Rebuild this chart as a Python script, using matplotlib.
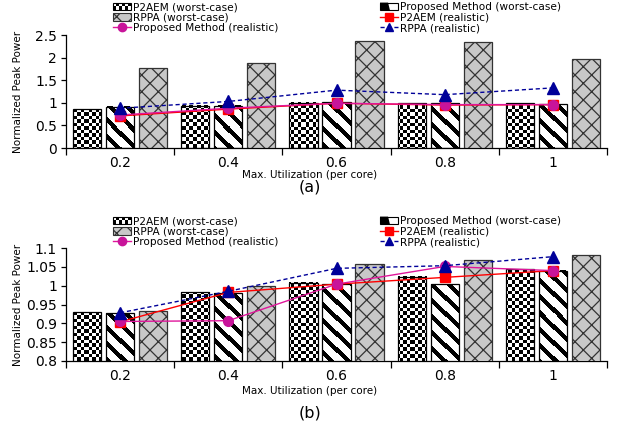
import numpy as np
import matplotlib
matplotlib.use("Agg")
import matplotlib.pyplot as plt
from matplotlib.patches import Rectangle, Polygon
from matplotlib.lines import Line2D
from matplotlib.legend_handler import HandlerBase

# ── Data ──────────────────────────────────────────────────────────────
utilization = ["0.2", "0.4", "0.6", "0.8", "1"]

# (a) full range
p2aem_wc_a = [0.86, 0.93, 1.00, 0.99, 0.99]
prop_wc_a = [0.91, 0.94, 1.01, 0.99, 0.97]
rppa_wc_a = [1.77, 1.89, 2.37, 2.34, 1.98]
p2aem_re_a = [0.71, 0.86, 0.99, 0.95, 0.96]
prop_re_a = [0.73, 0.88, 0.99, 0.96, 0.96]
rppa_re_a = [0.88, 1.03, 1.28, 1.18, 1.33]

# (b) zoomed
p2aem_wc_b = [0.930, 0.983, 1.008, 1.024, 1.044]
prop_wc_b = [0.927, 0.980, 1.004, 1.004, 1.040]
rppa_wc_b = [0.934, 0.999, 1.058, 1.067, 1.081]
p2aem_re_b = [0.904, 0.982, 1.004, 1.022, 1.040]
prop_re_b = [0.905, 0.907, 1.004, 1.051, 1.040]
rppa_re_b = [0.928, 0.985, 1.046, 1.053, 1.077]

# ── Style ─────────────────────────────────────────────────────────────
W, H = 623, 430
BLUE = "#000099"
RED = "#FF0000"
PINK = "#E0169B"
GREY = "#C8C8C8"
BAR_W = 0.26
OFF = 0.305

plt.rcParams["font.family"] = "DejaVu Sans"
plt.rcParams["hatch.linewidth"] = 0.9


def px_rect(l, t, r, b):
    return [l / W, 1 - b / H, (r - l) / W, (b - t) / H]


def pattern_image(ax, x0, x1, h, kind):
    """Fill a bar with a checker or stripe bitmap aligned to screen pixels."""
    y_lo = max(0.0, ax.get_ylim()[0])
    (x0p, y0p) = ax.transData.transform((x0, y_lo))
    (x1p, y1p) = ax.transData.transform((x1, h))
    nc = max(1, int(round(x1p - x0p)))
    nr = max(1, int(round(y1p - y0p)))
    X, Y = np.meshgrid(np.arange(nc) + x0p, np.arange(nr) + (H - y1p))
    if kind == "checker":
        img = (np.floor(X / 3.5) + np.floor(Y / 3.5)) % 2
    else:
        img = np.where(((X - Y) % 16) < 6, 0.0, 1.0)
    ax.imshow(img, extent=(x0, x1, y_lo, h), cmap="gray", vmin=0, vmax=1,
              interpolation="nearest", aspect="auto", zorder=2)


class CheckerHandler(HandlerBase):
    def create_artists(self, legend, orig, xd, yd, w, h, fs, trans):
        arts = [Rectangle((-xd, -yd), w, h, fc="white", ec="none", transform=trans)]
        nc, nr = 6, 2
        for i in range(nc):
            for j in range(nr):
                if (i + j) % 2 == 0:
                    arts.append(Rectangle((-xd + i * w / nc, -yd + j * h / nr),
                                          w / nc, h / nr, fc="black", ec="none",
                                          transform=trans))
        arts.append(Rectangle((-xd, -yd), w, h, fc="none", ec="black", lw=0.8,
                              transform=trans))
        return arts


class StripeHandler(HandlerBase):
    def create_artists(self, legend, orig, xd, yd, w, h, fs, trans):
        x0, y0 = -xd, -yd
        arts = [Rectangle((x0, y0), w, h, fc="white", ec="none", transform=trans),
                Polygon([(x0, y0 + h), (x0 + 0.45 * w, y0 + h), (x0 + 0.55 * w, y0),
                         (x0, y0)], closed=True, fc="black", ec="none",
                        transform=trans),
                Rectangle((x0, y0), w, h, fc="none", ec="black", lw=0.8,
                          transform=trans)]
        return arts


def panel(ax, ylim, yticks, p2_wc, pr_wc, rp_wc, p2_re, pr_re, rp_re,
          leg_top, xlabel_y):
    x = np.arange(len(utilization))
    ax.set_xlim(-0.5, len(utilization) - 0.5)
    ax.set_ylim(*ylim)

    # patterned bars: outline on top, bitmap below
    b1 = ax.bar(x - OFF, p2_wc, BAR_W, fc="none", ec="black", lw=0.9, zorder=3)
    b2 = ax.bar(x, pr_wc, BAR_W, fc="none", ec="black", lw=0.9, zorder=3)
    ax.bar(x + OFF, rp_wc, BAR_W, fc=GREY, ec="#333333", lw=0.9, hatch="xx",
           zorder=3)
    for bars, kind in ((b1, "checker"), (b2, "stripe")):
        for r in bars:
            pattern_image(ax, r.get_x(), r.get_x() + r.get_width(), r.get_height(),
                          kind)

    ax.plot(x, p2_re, color=RED, lw=1.0, marker="s", ms=7, mfc=RED, mec=RED,
            zorder=5)
    ax.plot(x, pr_re, color=PINK, lw=1.0, marker="o", ms=7, mfc="#C8149A",
            mec="#C8149A", zorder=6)
    ax.plot(x, rp_re, color=BLUE, lw=1.0, ls=(0, (3, 2)), marker="^", ms=8.5,
            mfc=BLUE, mec=BLUE, zorder=7)

    ax.set_xlim(-0.5, len(utilization) - 0.5)
    ax.set_ylim(*ylim)

    # axes
    for s in ("top", "right"):
        ax.spines[s].set_visible(False)
    ax.spines["left"].set_linewidth(0.9)
    ax.spines["bottom"].set_linewidth(0.9)
    ax.set_xticks(np.arange(-0.5, len(utilization), 1.0))
    ax.set_xticklabels([])
    ax.set_xticks(x, minor=True)
    ax.set_xticklabels(utilization, minor=True, fontsize=10)
    ax.tick_params(axis="x", which="major", direction="out", length=5, width=0.9)
    ax.tick_params(axis="x", which="minor", length=0, pad=5.5)
    ax.set_yticks(yticks)
    ax.set_yticklabels([f"{v:g}" for v in yticks], fontsize=10)
    ax.tick_params(axis="y", direction="out", length=3.5, width=0.9, pad=3)

    ax.set_ylabel("Normalized Peak Power", fontsize=7.5)
    ax.yaxis.set_label_coords(-0.08, 0.5)
    ax.set_xlabel("Max. Utilization (per core)", fontsize=7.5)
    ax.xaxis.set_label_coords(0.451, xlabel_y)

    # two legend columns placed above the axes
    h_p2 = Rectangle((0, 0), 1, 1)
    h_rp = Rectangle((0, 0), 1, 1, fc=GREY, ec="#333333", lw=0.8, hatch="xx")
    h_pr_re = Line2D([], [], color=PINK, lw=1.0, marker="o", ms=6,
                     mfc="#C8149A", mec="#C8149A")
    h_pr = Rectangle((0, 0), 1, 1)
    h_p2_re = Line2D([], [], color=RED, lw=1.0, marker="s", ms=6, mfc=RED, mec=RED)
    h_rp_re = Line2D([], [], color=BLUE, lw=1.0, ls=(0, (3, 2)), marker="^", ms=6,
                     mfc=BLUE, mec=BLUE)
    common = dict(frameon=False, fontsize=7.6, loc="upper left", borderpad=0,
                  borderaxespad=0, handlelength=1.7, handletextpad=0.2,
                  labelspacing=0.05, bbox_transform=ax.figure.transFigure)
    leg1 = ax.legend([h_p2, h_rp, h_pr_re],
                     ["P2AEM (worst-case)", "RPPA (worst-case)",
                      "Proposed Method (realistic)"],
                     handler_map={h_p2: CheckerHandler()},
                     bbox_to_anchor=(113 / W, 1 - leg_top / H), **common)
    ax.add_artist(leg1)
    ax.legend([h_pr, h_p2_re, h_rp_re],
              ["Proposed Method (worst-case)", "P2AEM (realistic)",
               "RPPA (realistic)"],
              handler_map={h_pr: StripeHandler()},
              bbox_to_anchor=(380 / W, 1 - leg_top / H), **common)


fig = plt.figure(figsize=(W / 100, H / 100), dpi=100)
ax_a = fig.add_axes(px_rect(66, 35, 607, 148))
ax_b = fig.add_axes(px_rect(66, 248, 607, 361))

panel(ax_a, (0, 2.5), [0, 0.5, 1, 1.5, 2, 2.5],
      p2aem_wc_a, prop_wc_a, rppa_wc_a, p2aem_re_a, prop_re_a, rppa_re_a,
      leg_top=2, xlabel_y=-0.195)
panel(ax_b, (0.8, 1.1), [0.8, 0.85, 0.9, 0.95, 1, 1.05, 1.1],
      p2aem_wc_b, prop_wc_b, rppa_wc_b, p2aem_re_b, prop_re_b, rppa_re_b,
      leg_top=216, xlabel_y=-0.221)

fig.text(310 / W, 1 - 187 / H, "(a)", fontsize=11.5, ha="center", va="center")
fig.text(310 / W, 1 - 413 / H, "(b)", fontsize=11.5, ha="center", va="center")

fig.savefig("out.png", dpi=100)
